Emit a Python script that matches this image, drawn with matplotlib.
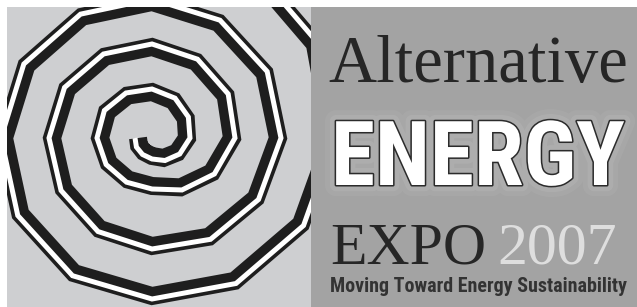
import fnmatch
import os
import numpy as np
import matplotlib
matplotlib.use("Agg")
import matplotlib.pyplot as plt
import matplotlib.patheffects as pe
from matplotlib import font_manager as fm
from matplotlib.patches import Rectangle
from matplotlib.textpath import TextPath

# spiral radii (px) every 30 degrees, starting at the inner tip (left of centre),
# turning counter-clockwise on screen
spiral_r = [14, 15, 16, 18, 23, 29, 35, 39, 43, 46, 49, 52, 52, 50, 48, 48, 57, 69,
            80, 85, 88, 91, 94, 98, 100, 102, 105, 108, 114, 120, 126, 130, 133, 136,
            140, 145, 148, 152, 156, 158, 165, 172, 180, 188, 196]
spiral_start_deg = 180
spiral_step_deg = 30
spiral_centre = (152, 138)

title_top = "Alternative"
title_mid = "ENERGY"
title_low = "EXPO"
year = "2007"
tagline = "Moving Toward Energy Sustainability"

W, H = 637, 307


def find_font(patterns, family, weight="normal"):
    files = fm.findSystemFonts()
    for pat in patterns:
        hits = sorted(f for f in files if fnmatch.fnmatch(os.path.basename(f), pat))
        if hits:
            return fm.FontProperties(fname=hits[0])
    return fm.FontProperties(family=family, weight=weight)


serif = fm.FontProperties(family="Liberation Serif")
sans_c = find_font(["RobotoCondensed-Bold.ttf", "LiberationSansNarrow-Bold.ttf",
                    "DejaVuSansCondensed-Bold.ttf"], "Liberation Sans", "bold")


def text_size(s, prop):
    return TextPath((0, 0), s, prop=prop, size=1).get_extents().width


def cap_size(prop):
    return TextPath((0, 0), "H", prop=prop, size=1).get_extents().height


def fit_size(s, prop, width_px, cap_px):
    # font size in points so the text fits the box width and cap height
    return min(width_px * 0.72 / text_size(s, prop), cap_px * 0.72 / cap_size(prop))


fig = plt.figure(figsize=(W / 100, H / 100), dpi=100)
ax = fig.add_axes([0, 0, 1, 1])
ax.set_xlim(0, W)
ax.set_ylim(H, 0)
ax.axis("off")
fig.patch.set_facecolor("white")

left_panel = Rectangle((7, 7), 304, 300, facecolor="#cecfd1", edgecolor="none", zorder=0)
right_panel = Rectangle((311, 7), 326, 300, facecolor="#a3a3a3", edgecolor="none", zorder=0)
ax.add_patch(left_panel)
ax.add_patch(right_panel)

# spiral
th = np.radians(spiral_start_deg + spiral_step_deg * np.arange(len(spiral_r)))
r = np.array(spiral_r, dtype=float)
cx, cy = spiral_centre
xs = cx + r * np.cos(th)
ys = cy - r * np.sin(th)
xw = cx + (r + 3) * np.cos(th)
yw = cy - (r + 3) * np.sin(th)
blk, = ax.plot(xs, ys, color="#1e1e1e", lw=18 * 0.72, solid_joinstyle="miter",
               solid_capstyle="butt", zorder=2)
wht, = ax.plot(xw, yw, color="white", lw=5 * 0.72, solid_joinstyle="miter",
               solid_capstyle="butt", zorder=3)
blk.set_clip_path(left_panel)
wht.set_clip_path(left_panel)

# texts
fs = fit_size(title_top, serif, 297, 57)
ax.text(328, 82, title_top, fontproperties=serif, fontsize=fs, color="#262626",
        ha="left", va="baseline", zorder=4)

fs = fit_size(title_mid, sans_c, 288, 85)
glow = [pe.withStroke(linewidth=16, foreground="white", alpha=0.05),
        pe.withStroke(linewidth=9, foreground="white", alpha=0.08),
        pe.Stroke(linewidth=2.2, foreground="#2b2b2b"), pe.Normal()]
ax.text(331, 185, title_mid, fontproperties=sans_c, fontsize=fs, color="white",
        ha="left", va="baseline", zorder=4, path_effects=glow)

fs = min(fit_size(title_low, serif, 152, 58), fit_size(year, serif, 128, 58))
ax.text(330, 263, title_low, fontproperties=serif, fontsize=fs, color="#262626",
        ha="left", va="baseline", zorder=4)
ax.text(497, 263, year, fontproperties=serif, fontsize=fs, color="#dedede",
        ha="left", va="baseline", zorder=4)

fs = fit_size(tagline, sans_c, 295, 17)
ax.text(330, 292, tagline, fontproperties=sans_c, fontsize=fs, color="#333333",
        ha="left", va="baseline", zorder=4)

fig.savefig("out.png", dpi=100)
